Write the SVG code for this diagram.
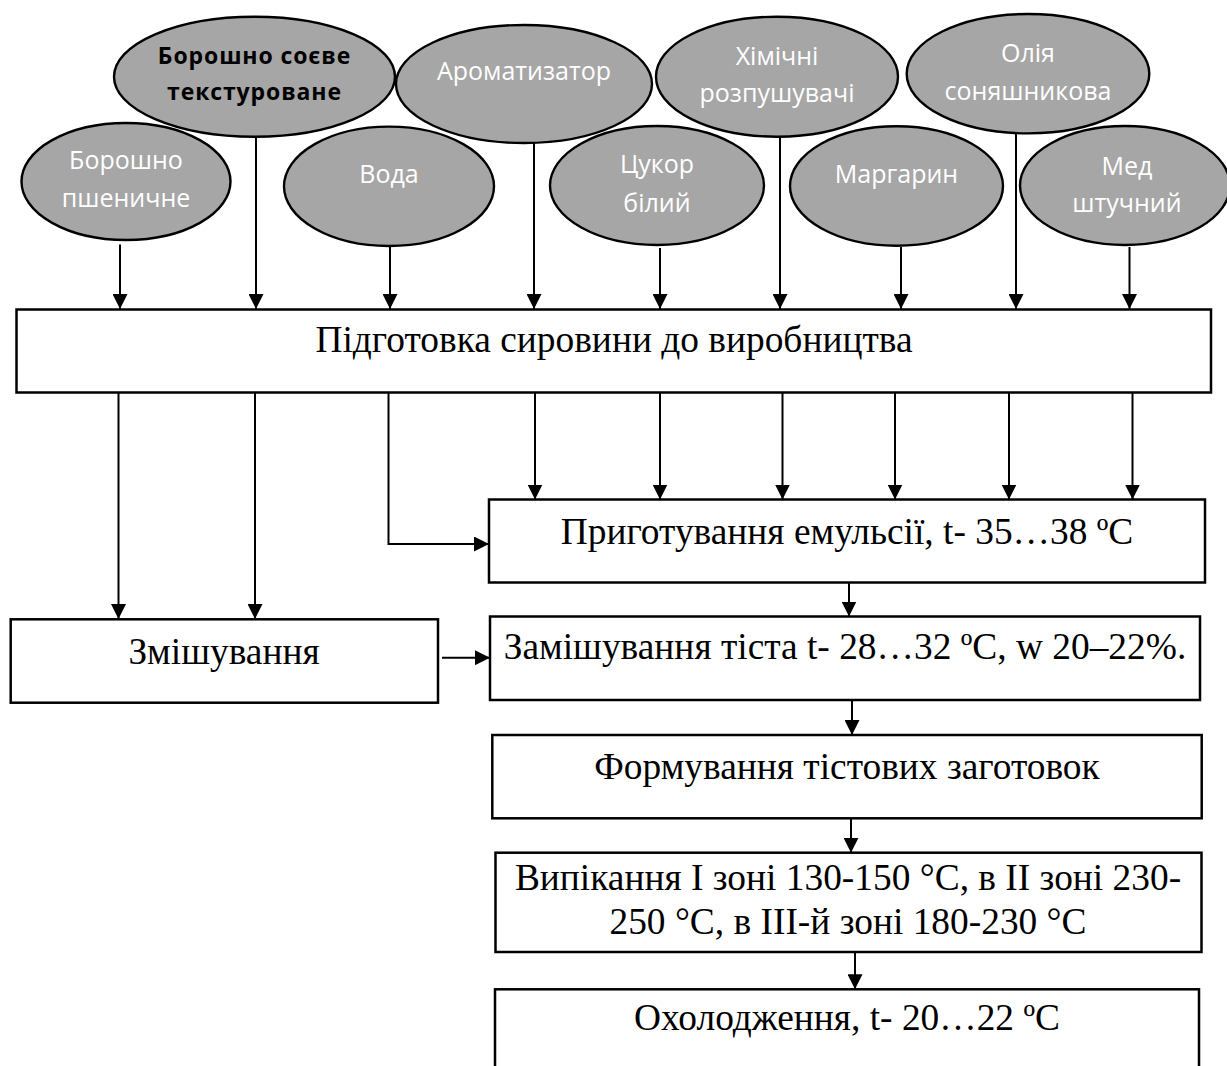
<svg xmlns="http://www.w3.org/2000/svg" width="1227" height="1066" viewBox="0 0 1227 1066">
<style>
.oval{fill:#a6a6a6;stroke:#000;stroke-width:2.4}
.box{fill:#fff;stroke:#000;stroke-width:2.5}
.wt{font-family:"Open Sans","Noto Sans",sans-serif;font-size:25px;fill:#fff;text-anchor:middle}
.bt{font-family:"Open Sans","Noto Sans",sans-serif;font-size:23px;font-weight:bold;letter-spacing:0.9px;fill:#000;text-anchor:middle}
.st{font-family:"Liberation Serif","Times New Roman",serif;font-size:37.4px;fill:#000;text-anchor:middle}
.ln{fill:none;stroke:#000;stroke-width:2;marker-end:url(#ah)}
</style>
<defs>
<marker id="ah" markerUnits="userSpaceOnUse" markerWidth="15" markerHeight="15" refX="15" refY="7.5" orient="auto">
<path d="M0,0 L15,7.5 L0,15 z" fill="#000"/>
</marker>
</defs>
<rect width="1227" height="1066" fill="#fff"/>

<g id="n-soieve">
<ellipse class="oval" cx="254.5" cy="76.7" rx="140.5" ry="60"/>
<text class="bt" x="254.5" y="64">Борошно соєве</text>
<text class="bt" x="254.5" y="100">текстуроване</text>
</g>
<g id="n-aromatyzator">
<ellipse class="oval" cx="524" cy="84" rx="128" ry="59"/>
<text class="wt" x="524" y="80">Ароматизатор</text>
</g>
<g id="n-khimichni">
<ellipse class="oval" cx="777" cy="76.7" rx="121" ry="60"/>
<text class="wt" x="777" y="65">Хімічні</text>
<text class="wt" x="777" y="102">розпушувачі</text>
</g>
<g id="n-oliia">
<ellipse class="oval" cx="1028" cy="73.7" rx="121.3" ry="59.7"/>
<text class="wt" x="1028" y="62">Олія</text>
<text class="wt" x="1028" y="100">соняшникова</text>
</g>
<g id="n-pshenychne">
<ellipse class="oval" cx="126" cy="181.5" rx="104.5" ry="58.5"/>
<text class="wt" x="126" y="169">Борошно</text>
<text class="wt" x="126" y="207">пшеничне</text>
</g>
<g id="n-voda">
<ellipse class="oval" cx="389" cy="186.3" rx="105" ry="59.7"/>
<text class="wt" x="389" y="183">Вода</text>
</g>
<g id="n-tsukor">
<ellipse class="oval" cx="657" cy="185.5" rx="107" ry="59.5"/>
<text class="wt" x="657" y="173">Цукор</text>
<text class="wt" x="657" y="212">білий</text>
</g>
<g id="n-marharyn">
<ellipse class="oval" cx="896.5" cy="186" rx="106.5" ry="59.7"/>
<text class="wt" x="896.5" y="183">Маргарин</text>
</g>
<g id="n-med">
<ellipse class="oval" cx="1125" cy="185.5" rx="105" ry="59.5"/>
<text class="wt" x="1127" y="175">Мед</text>
<text class="wt" x="1127" y="212">штучний</text>
</g>

<g id="n-pidhotovka">
<rect class="box" x="16.5" y="309.5" width="1194.5" height="83"/>
<text class="st" x="614" y="352">Підготовка сировини до виробництва</text>
</g>
<g id="n-emulsiia">
<rect class="box" x="489" y="499.5" width="716" height="83"/>
<text class="st" x="847" y="543.5">Приготування емульсії, t- 35…38 ºC</text>
</g>
<g id="n-zmishuvannia">
<rect class="box" x="10.7" y="619.3" width="427.3" height="83.4"/>
<text class="st" x="224" y="663.5">Змішування</text>
</g>
<g id="n-zamishuvannia">
<rect class="box" x="490" y="616.5" width="710" height="83.5"/>
<text class="st" x="845" y="658.5">Замішування тіста t- 28…32 ºC, w 20–22%.</text>
</g>
<g id="n-formuvannia">
<rect class="box" x="492.3" y="735" width="709.4" height="83.3"/>
<text class="st" x="847" y="779">Формування тістових заготовок</text>
</g>
<g id="n-vypikannia">
<rect class="box" x="495.5" y="852.7" width="706" height="99.3"/>
<text class="st" x="848" y="889.5">Випікання I зоні 130-150 °C, в II зоні 230-</text>
<text class="st" x="848" y="934">250 °C, в III-й зоні 180-230 °C</text>
</g>
<g id="n-okholodzhennia">
<rect class="box" x="495" y="989.3" width="704" height="100"/>
<text class="st" x="847" y="1030">Охолодження, t- 20…22 ºC</text>
</g>

<g id="connectors">
<path class="ln" d="M120,244.5 V309"/>
<path class="ln" d="M256,137 V309"/>
<path class="ln" d="M390,246.5 V309"/>
<path class="ln" d="M534,143 V309"/>
<path class="ln" d="M660,248 V309"/>
<path class="ln" d="M780,137 V309"/>
<path class="ln" d="M901,247 V309"/>
<path class="ln" d="M1016,133 V309"/>
<path class="ln" d="M1129.5,247 V309"/>

<path class="ln" d="M118.5,393 V619"/>
<path class="ln" d="M255,393 V619"/>
<path class="ln" d="M388.5,393 V544 H489"/>
<path class="ln" d="M535,393 V499.5"/>
<path class="ln" d="M660,393 V499.5"/>
<path class="ln" d="M782.5,393 V499.5"/>
<path class="ln" d="M895,393 V499.5"/>
<path class="ln" d="M1009,393 V499.5"/>
<path class="ln" d="M1132.5,393 V499.5"/>

<path class="ln" d="M849,582.5 V616.5"/>
<path class="ln" d="M442,657.7 H490"/>
<path class="ln" d="M852,700 V735"/>
<path class="ln" d="M851,818.3 V852.7"/>
<path class="ln" d="M855,952 V989.3"/>
</g>
</svg>
